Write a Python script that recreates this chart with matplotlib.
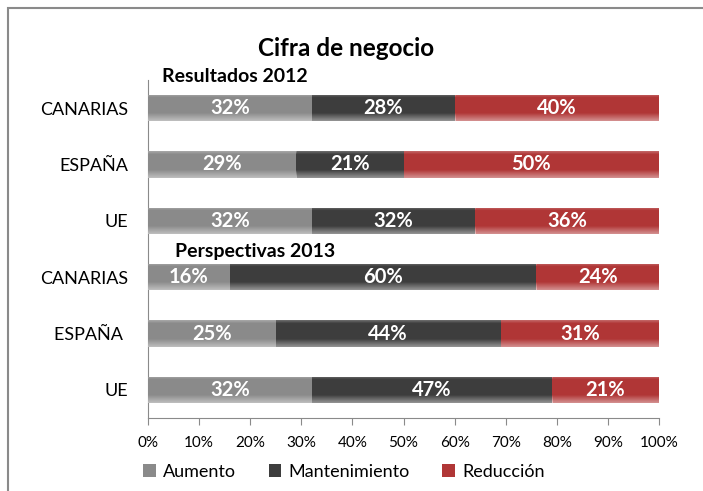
import matplotlib.pyplot as plt
import matplotlib.patches as mpatches
import numpy as np

plt.rcParams['font.family'] = ['Lato', 'DejaVu Sans']

# Data (top to bottom)
categories = ['CANARIAS', 'ESPAÑA', 'UE', 'CANARIAS', 'ESPAÑA ', 'UE']
aumento = [32, 29, 32, 16, 25, 32]
mantenimiento = [28, 21, 32, 60, 44, 47]
reduccion = [40, 50, 36, 24, 31, 21]
series_names = ['Aumento', 'Mantenimiento', 'Reducción']
colors = ['#8a8a8a', '#3d3d3d', '#b03636']
xticks = np.arange(0, 101, 10)

fig = plt.figure(figsize=(7.03, 4.91), dpi=100)
ax = fig.add_axes([148 / 703, 1 - 418 / 491, (659 - 148) / 703, (418 - 80) / 491])

# outer frame
fig.patches.append(mpatches.Rectangle((8 / 703, -0.1), 1.2, 1 - 8 / 491 + 0.1,
                                      transform=fig.transFigure, fill=False,
                                      ec='#8a8a8a', lw=1.5))

# white overlay for the bevel look (row 0 = top of bar)
t = np.linspace(0, 1, 60)
alpha = np.where(t < 0.12, 0.25 * (1 - t / 0.12), 0.0) + np.where(t > 0.7, 0.45 * (t - 0.7) / 0.3, 0.0)
bevel = np.ones((60, 1, 4))
bevel[:, 0, 3] = alpha

y = np.arange(len(categories))
left = np.zeros(len(categories))
for vals, col, name in zip([aumento, mantenimiento, reduccion], colors, series_names):
    vals = np.array(vals, dtype=float)
    bars = ax.barh(y, vals, left=left, height=0.47, color=col, label=name,
                   edgecolor='none', zorder=2)
    for b, v in zip(bars, vals):
        x0, y0 = b.get_x(), b.get_y()
        im = ax.imshow(bevel, extent=(x0, x0 + b.get_width(), y0 + b.get_height(), y0),
                       aspect='auto', zorder=3, interpolation='bilinear')
        im.set_clip_path(b)
        ax.text(x0 + b.get_width() / 2, y0 + b.get_height() / 2,
                f'{int(v)}%', ha='center', va='center', color='white',
                fontsize=14.5, fontweight='bold', zorder=4)
    left += vals

ax.set_xlim(0, 100)
ax.set_ylim(len(categories) - 0.5, -0.5)
ax.set_yticks(y)
ax.set_yticklabels(categories, fontsize=13)
ax.set_xticks(xticks)
ax.set_xticklabels([f'{t}%' for t in xticks], fontsize=11)
for s in ['top', 'right']:
    ax.spines[s].set_visible(False)
ax.spines['left'].set_color('#8a8a8a')
ax.spines['bottom'].set_color('#8a8a8a')
ax.tick_params(axis='y', length=0, pad=14.5)
ax.tick_params(axis='x', length=5, color='#8a8a8a', pad=8)

fig.text(346 / 703, 1 - 48 / 491, 'Cifra de negocio', ha='center', va='center',
         fontsize=17.5, fontweight='bold')
fig.text(162 / 703, 1 - 77 / 491, 'Resultados 2012', ha='left', va='center',
         fontsize=14, fontweight='bold')
fig.text(175 / 703, 1 - 251 / 491, 'Perspectivas 2013', ha='left', va='center',
         fontsize=14, fontweight='bold')

fig.legend(*ax.get_legend_handles_labels(), loc='center',
           bbox_to_anchor=(344 / 703, 1 - 472 / 491), ncol=3,
           frameon=False, fontsize=13, handlelength=0.7, handleheight=0.7,
           columnspacing=1.8, handletextpad=0.4)

fig.savefig('out.png', dpi=100)
